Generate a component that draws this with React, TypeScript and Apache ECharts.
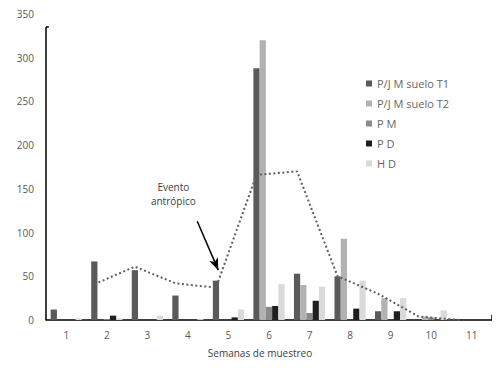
import React, { useEffect, useRef } from "react";
import * as echarts from "echarts";

const weeks = ["1", "2", "3", "4", "5", "6", "7", "8", "9", "10", "11"];
const seriesNames = ["P/J M suelo T1", "P/J M suelo T2", "P M", "P D", "H D"];
const t1 = [12, 67, 57, 28, 45, 288, 53, 50, 10, 0, 0];
const t2 = [0, 0, 0, 0, 0, 320, 40, 93, 25, 4, 0];
const pm = [0, 1, 0, 0, 0, 15, 8, 0, 0, 3, 0];
const pd = [0, 5, 0, 0, 3, 16, 22, 13, 10, 0, 0];
const hd = [2, 2, 5, 1, 12, 41, 38, 45, 25, 11, 0];
// 2-period moving average trendline of T1, weeks 2..11
const trendWeeks = [2, 3, 4, 5, 6, 7, 8, 9, 10, 11];
const trendValues = [41, 61, 42, 37, 166, 170, 50, 30, 4, 0];
const yTicks = [0, 50, 100, 150, 200, 250, 300, 350];
const annotationLines = ["Evento", "antrópico"];

const colors = ["#5a5a5a", "#b2b2b2", "#8a8a8a", "#1f1f1f", "#dadada"];
const FONT = "Open Sans";
const CAT_GAP = 0.23;

export default function App() {
  const ref = useRef<HTMLDivElement>(null);
  useEffect(() => {
    if (!ref.current) return;
    const chart = echarts.init(ref.current, undefined, { renderer: "svg" });
    const barFrac = (1 - CAT_GAP) / seriesNames.length;
    const t1Offset = -2 * barFrac;
    const values = [t1, t2, pm, pd, hd];
    const bars = values.map((d, i) => ({
      name: seriesNames[i],
      type: "bar",
      data: d,
      barGap: "0%",
      barCategoryGap: CAT_GAP * 100 + "%",
      itemStyle: { color: colors[i] },
      xAxisIndex: 0,
    }));
    const labelStyle = {
      color: "#404040",
      fontSize: 10,
      lineHeight: 11,
      fontFamily: FONT,
      align: "center",
      verticalAlign: "middle",
    };
    chart.setOption({
      animation: false,
      textStyle: { fontFamily: FONT },
      grid: { left: 46, right: 8, top: 14, bottom: 48, outerBoundsMode: "none", containLabel: false },
      legend: {
        orient: "vertical",
        left: 361,
        top: 73,
        data: seriesNames,
        icon: "rect",
        itemWidth: 6,
        itemHeight: 6,
        itemGap: 9,
        textStyle: { fontFamily: FONT, fontSize: 11, color: "#666666" },
      },
      xAxis: [
        {
          type: "category",
          data: weeks,
          axisLine: { show: true, lineStyle: { color: "#000", width: 1.5 } },
          axisTick: { show: false },
          axisLabel: { color: "#595959", fontSize: 10, margin: 10, fontFamily: FONT },
          name: "Semanas de muestreo",
          nameLocation: "middle",
          nameGap: 28,
          nameTextStyle: { color: "#404040", fontSize: 10, fontFamily: FONT, padding: [0, 18, 0, 0] },
        },
        {
          type: "value",
          min: 0.5,
          max: 11.5,
          show: false,
        },
      ],
      yAxis: {
        type: "value",
        min: 0,
        max: 350,
        interval: 50,
        axisLine: { show: false },
        axisTick: { show: false },
        splitLine: { show: false },
        axisLabel: {
          color: "#595959",
          fontSize: 10,
          margin: 12,
          fontFamily: FONT,
          customValues: yTicks,
        },
        name: "Mortalidad",
        nameLocation: "middle",
        nameGap: 31,
        nameTextStyle: { color: "#404040", fontSize: 9, fontFamily: FONT },
      },
      series: [
        ...bars,
        {
          name: "trend",
          type: "line",
          xAxisIndex: 1,
          data: trendWeeks.map((w, i) => [w + t1Offset, trendValues[i]]),
          symbol: "none",
          lineStyle: { color: "#5f5f5f", width: 2, type: [2, 2.5] },
          z: 5,
          markLine: {
            silent: true,
            symbol: ["none", "none"],
            label: { show: false },
            lineStyle: { color: "#000", width: 1.5, type: "solid" },
            data: [
              [{ coord: [0.5, 0] }, { coord: [0.5, 335] }],
              [{ coord: [0.5, 335] }, { coord: [0.57, 335] }],
              [{ coord: [11.5, 0] }, { coord: [11.5, 6] }],
              [
                { coord: [4.23, 113], symbol: "none" },
                { coord: [4.75, 57], symbol: "arrow", symbolSize: [7, 12] },
              ],
            ],
          },
          markPoint: {
            silent: true,
            symbol: "rect",
            symbolSize: 0,
            data: [
              { coord: [3.64, 152.5], label: { show: true, formatter: annotationLines[0], ...labelStyle } },
              { coord: [3.64, 136], label: { show: true, formatter: annotationLines[1], ...labelStyle } },
            ],
          },
        },
      ],
    });
    return () => chart.dispose();
  }, []);
  return <div ref={ref} style={{ width: 500, height: 368, margin: -8 }} />;
}
